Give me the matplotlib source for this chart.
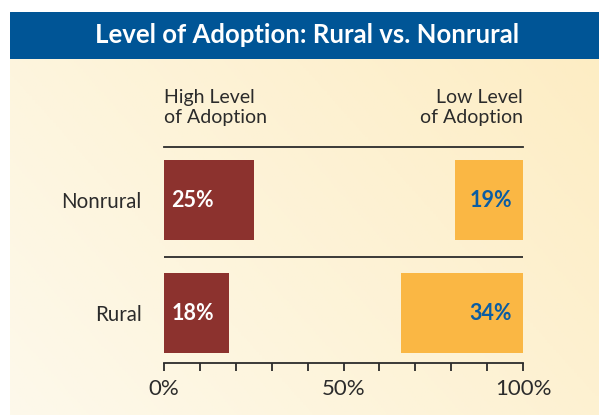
import numpy as np
import matplotlib.pyplot as plt
from matplotlib.colors import LinearSegmentedColormap

plt.rcParams['font.family'] = ['Lato', 'DejaVu Sans']

# data
groups = ['Nonrural', 'Rural']
high_pct = [25, 18]
low_pct = [19, 34]
xticks = [0, 10, 20, 30, 40, 50, 60, 70, 80, 90, 100]
xticklabels = ['0%', '', '', '', '', '50%', '', '', '', '', '100%']
title = 'Level of Adoption: Rural vs. Nonrural'

red = '#8c322e'
orange = '#fab744'
blue = '#0a5da3'
header_blue = '#005596'
dark = '#2b2b2b'

W, H = 599, 415
fig = plt.figure(figsize=(W/100, H/100), dpi=100)
fig.patch.set_facecolor('white')

# cream gradient background
bg = fig.add_axes([10/W, 0, 1-10/W, 1-59/H])
bg.set_axis_off()
xx, yy = np.meshgrid(np.linspace(0, 1, 200), np.linspace(0, 1, 200))
grad = (xx*0.65 + yy*0.35)
cmap = LinearSegmentedColormap.from_list('cream', ['#fdf9eb', '#fdedc4'])
bg.imshow(grad, cmap=cmap, aspect='auto', extent=[0, 1, 0, 1], origin='lower')

# header band
hdr = fig.add_axes([10/W, 1-59/H, 1-10/W, 47/H])
hdr.set_axis_off()
hdr.add_patch(plt.Rectangle((0, 0), 1, 1, color=header_blue, transform=hdr.transAxes))
fig.text(307/W, 1-35/H, title, color='white', fontsize=18.5, fontweight='bold',
         ha='center', va='center')

# main chart
x0, x1 = 164, 523
ytop, ybot = 147, 363
ax = fig.add_axes([x0/W, 1-ybot/H, (x1-x0)/W, (ybot-ytop)/H])
ax.patch.set_alpha(0)
ypos = np.arange(len(groups))
ax.barh(ypos, high_pct, height=0.71, left=0, color=red)
ax.barh(ypos, low_pct, height=0.71, left=[100-v for v in low_pct], color=orange)
for i in ypos:
    ax.text(2.0, i, f'{high_pct[i]}%', color='white', fontsize=15.5,
            fontweight='bold', ha='left', va='center')
    ax.text(96.9, i, f'{low_pct[i]}%', color=blue, fontsize=15.5,
            fontweight='bold', ha='right', va='center')
ax.axhline(0.504, color=dark, lw=1.3)
ax.set_xlim(0, 100)
ax.set_ylim(1.442, -0.469)
for s in ['left', 'right']:
    ax.spines[s].set_visible(False)
ax.spines['top'].set_color(dark)
ax.spines['bottom'].set_color(dark)
ax.spines['top'].set_linewidth(1.3)
ax.spines['bottom'].set_linewidth(1.3)
ax.set_xticks(xticks)
ax.set_xticklabels(xticklabels, fontsize=16, color=dark)
ax.tick_params(axis='x', direction='out', length=5.5, width=1.3, color=dark, pad=6)
ax.set_yticks(ypos)
ax.set_yticklabels(groups, fontsize=14.8, color=dark)
ax.tick_params(axis='y', length=0, pad=16)

fig.text(x0/W, 1-89/H, 'High Level\nof Adoption', fontsize=14, color=dark,
         ha='left', va='top', linespacing=1.22)
fig.text(x1/W, 1-89/H, 'Low Level\nof Adoption', fontsize=14, color=dark,
         ha='right', va='top', linespacing=1.22, multialignment='right')

fig.savefig('out.png', dpi=100)
